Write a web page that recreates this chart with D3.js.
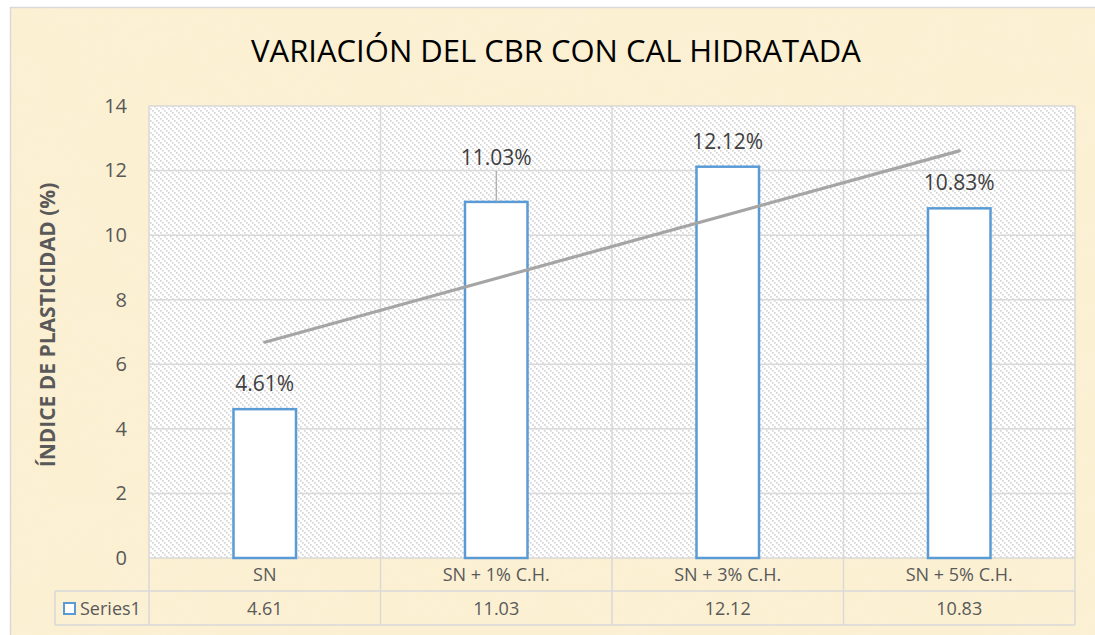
<!DOCTYPE html>
<html>
<head>
<meta charset="utf-8">
<script src="https://cdn.jsdelivr.net/npm/d3@7"></script>
<style>
  html, body { margin: 0; padding: 0; background: #ffffff; }
  svg { display: block; }
  text { font-family: "Open Sans", "Noto Sans", sans-serif; }
</style>
</head>
<body>
<svg id="chart" width="1095" height="635"></svg>
<script>
// Chart data
const categories = ["SN", "SN + 1% C.H.", "SN + 3% C.H.", "SN + 5% C.H."];
const values = [4.61, 11.03, 12.12, 10.83];
const seriesName = "Series1";
const yTicks = [0, 2, 4, 6, 8, 10, 12, 14];
const titleText = "VARIACIÓN DEL CBR CON CAL HIDRATADA";
const yAxisTitle = "ÍNDICE DE PLASTICIDAD (%)";

const svg = d3.select("#chart");
const W = 1095, H = 635;

// Plot area bounds
const plot = { left: 149, right: 1075, top: 106, bottom: 558 };
const tableRow1 = 591, tableRow2 = 625, legendLeft = 55;

const defs = svg.append("defs");

// Parchment texture for the chart area
const tex = defs.append("filter").attr("id", "parchment")
  .attr("x", 0).attr("y", 0).attr("width", 1).attr("height", 1);
tex.append("feTurbulence").attr("type", "fractalNoise")
  .attr("baseFrequency", "0.012 0.02").attr("numOctaves", 3).attr("seed", 7).attr("result", "noise");
tex.append("feColorMatrix").attr("in", "noise").attr("type", "matrix")
  .attr("values", "0 0 0 0 0.95  0 0 0 0 0.88  0 0 0 0 0.70  0 0 0 0.5 -0.12")
  .attr("result", "tint");
tex.append("feComposite").attr("in", "tint").attr("in2", "SourceGraphic").attr("operator", "in");

// Fine diagonal hatch for the plot area
const hatch = defs.append("pattern").attr("id", "hatch")
  .attr("patternUnits", "userSpaceOnUse").attr("width", 6).attr("height", 6);
hatch.append("rect").attr("width", 6).attr("height", 6).attr("fill", "#ffffff");
[[0, 0], [2, 2], [4, 4]].forEach(([x, y]) =>
  hatch.append("rect").attr("x", x).attr("y", y).attr("width", 1.7).attr("height", 1.7).attr("fill", "#d6d6d6"));

// Chart background
svg.append("rect").attr("x", 10).attr("y", 7).attr("width", W - 10).attr("height", H - 7)
  .attr("fill", "#fcf0d2");
svg.append("rect").attr("x", 10).attr("y", 7).attr("width", W - 10).attr("height", H - 7)
  .attr("fill", "#fcf0d2").attr("filter", "url(#parchment)");
svg.append("path").attr("d", `M10.5,${H} V7.5 H${W}`)
  .attr("fill", "none").attr("stroke", "#d9d9d9").attr("stroke-width", 1.5);

// Scales
const x = d3.scaleBand().domain(categories).range([plot.left, plot.right]).padding(0);
const y = d3.scaleLinear().domain([0, 14]).range([plot.bottom, plot.top]);
const barW = x.bandwidth() * 0.27;

// Plot area fill
svg.append("rect").attr("x", plot.left).attr("y", plot.top)
  .attr("width", plot.right - plot.left).attr("height", plot.bottom - plot.top)
  .attr("fill", "url(#hatch)");

const gridColor = "#d9d9d9";

// Horizontal gridlines
svg.append("g").selectAll("line").data(yTicks).join("line")
  .attr("x1", plot.left).attr("x2", plot.right)
  .attr("y1", d => y(d)).attr("y2", d => y(d))
  .attr("stroke", gridColor).attr("stroke-width", 1.5);

// Vertical category separators through plot and table
const edges = categories.map(c => x(c)).concat([plot.right]);
svg.append("g").selectAll("line").data(edges).join("line")
  .attr("x1", d => d).attr("x2", d => d)
  .attr("y1", plot.top).attr("y2", tableRow2)
  .attr("stroke", gridColor).attr("stroke-width", 1.5);

// Data table horizontal rules
svg.append("line").attr("x1", legendLeft).attr("x2", plot.right)
  .attr("y1", tableRow1).attr("y2", tableRow1).attr("stroke", gridColor).attr("stroke-width", 1.5);
svg.append("line").attr("x1", legendLeft).attr("x2", plot.right)
  .attr("y1", tableRow2).attr("y2", tableRow2).attr("stroke", gridColor).attr("stroke-width", 1.5);
svg.append("line").attr("x1", legendLeft).attr("x2", legendLeft)
  .attr("y1", tableRow1).attr("y2", tableRow2).attr("stroke", gridColor).attr("stroke-width", 1.5);

// Y axis tick labels
const yAxis = d3.axisLeft(y).tickValues(yTicks).tickSize(0).tickPadding(22).tickFormat(d3.format("d"));
const gy = svg.append("g").attr("transform", `translate(${plot.left},0)`).call(yAxis);
gy.select(".domain").remove();
gy.selectAll("text").attr("fill", "#595959").style("font-size", "20px")
  .style("font-family", '"Open Sans", sans-serif');

// Bars
const data = categories.map((c, i) => ({ c, v: values[i] }));
svg.append("g").selectAll("rect").data(data).join("rect")
  .attr("x", d => x(d.c) + x.bandwidth() / 2 - barW / 2)
  .attr("y", d => y(d.v))
  .attr("width", barW)
  .attr("height", d => y(0) - y(d.v))
  .attr("fill", "#ffffff")
  .attr("stroke", "#5b9bd5").attr("stroke-width", 2.5);

// Linear trendline (least squares over category index)
const n = values.length;
const xs = d3.range(1, n + 1);
const mx = d3.mean(xs), my = d3.mean(values);
const slope = d3.sum(xs, (xi, i) => (xi - mx) * (values[i] - my)) / d3.sum(xs, xi => (xi - mx) ** 2);
const icpt = my - slope * mx;
const cx = i => x(categories[i]) + x.bandwidth() / 2;
svg.append("line")
  .attr("x1", cx(0)).attr("y1", y(icpt + slope * 1))
  .attr("x2", cx(n - 1)).attr("y2", y(icpt + slope * n))
  .attr("stroke", "#a5a5a5").attr("stroke-width", 3.2).attr("stroke-linecap", "round");

// Data labels; the second one is lifted clear of the trendline with a leader line
const labelLift = [0, 19, 0, 0];
const lg = svg.append("g");
data.forEach((d, i) => {
  const top = y(d.v);
  const base = top - 18;
  const ly = base - labelLift[i];
  if (labelLift[i] > 0) {
    lg.append("line").attr("x1", cx(i)).attr("x2", cx(i))
      .attr("y1", ly + 6).attr("y2", top)
      .attr("stroke", "#a6a6a6").attr("stroke-width", 1.2);
  }
  lg.append("text").attr("x", cx(i)).attr("y", ly)
    .attr("text-anchor", "middle").attr("fill", "#404040")
    .style("font-size", "21px").text(d.v.toFixed(2) + "%");
});

// Data table: categories and values
svg.append("g").selectAll("text").data(categories).join("text")
  .attr("x", d => x(d) + x.bandwidth() / 2).attr("y", 581)
  .attr("text-anchor", "middle").attr("fill", "#595959").style("font-size", "18px")
  .text(d => d);
svg.append("g").selectAll("text").data(data).join("text")
  .attr("x", d => x(d.c) + x.bandwidth() / 2).attr("y", 615)
  .attr("text-anchor", "middle").attr("fill", "#595959").style("font-size", "18px")
  .text(d => d.v.toFixed(2));

// Legend key inside the table
svg.append("rect").attr("x", 64).attr("y", 603).attr("width", 11).attr("height", 11)
  .attr("fill", "#ffffff").attr("stroke", "#5b9bd5").attr("stroke-width", 2);
svg.append("text").attr("x", 80).attr("y", 615).attr("fill", "#595959")
  .style("font-size", "18px").text(seriesName);

// Y axis title
svg.append("text")
  .attr("transform", `translate(55, 325) rotate(-90)`)
  .attr("text-anchor", "middle").attr("fill", "#595959")
  .style("font-size", "21px").style("font-weight", "bold")
  .text(yAxisTitle);

// Chart title
svg.append("text").attr("x", 556).attr("y", 62)
  .attr("text-anchor", "middle").attr("fill", "#000000")
  .style("font-size", "31px")
  .text(titleText);
</script>
</body>
</html>
